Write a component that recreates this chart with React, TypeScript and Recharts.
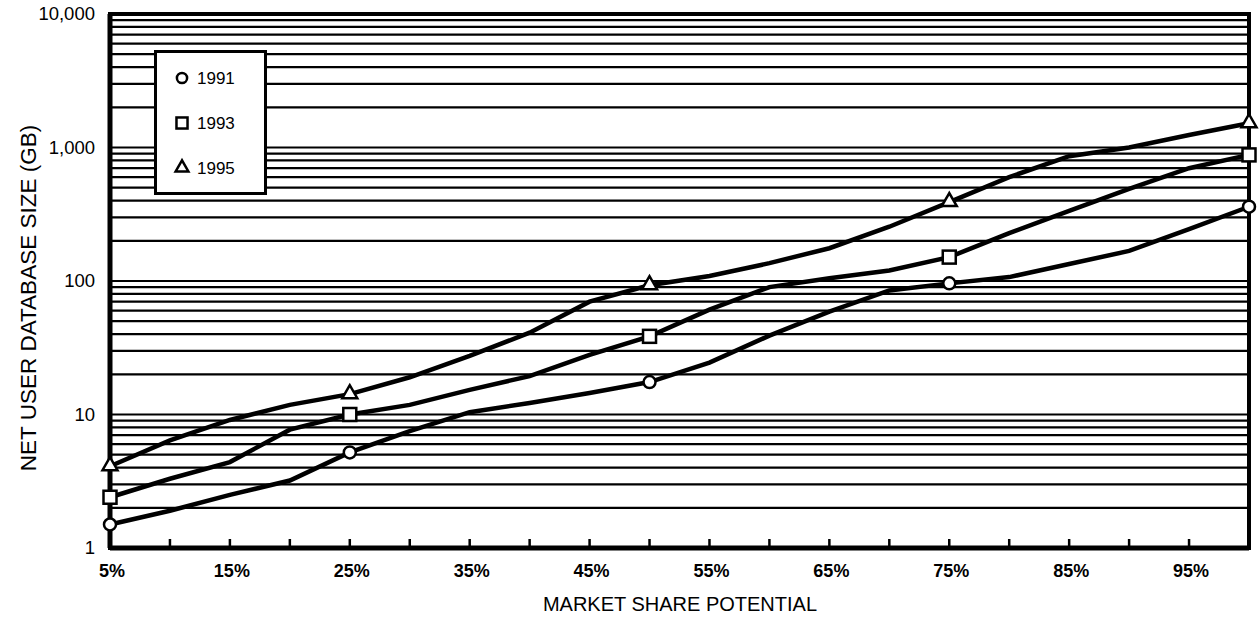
import React from 'react';
import { LineChart, Line, XAxis, YAxis, CartesianGrid, ReferenceArea, Legend } from 'recharts';

// market share potential (%), one point every 5%
const shares = [5, 10, 15, 20, 25, 30, 35, 40, 45, 50, 55, 60, 65, 70, 75, 80, 85, 90, 95, 100];

// net user database size (GB)
const size1991 = [1.5, 1.9, 2.5, 3.2, 5.2, 7.5, 10.4, 12.2, 14.5, 17.5, 24.5, 39, 59, 85, 96, 107, 134, 168, 245, 360];
const size1993 = [2.4, 3.3, 4.4, 7.7, 10, 11.8, 15.3, 19.4, 28, 38.5, 61, 90, 105, 120, 151, 228, 335, 490, 700, 880];
const size1995 = [4.1, 6.4, 9.1, 11.8, 14.2, 19, 27.5, 41, 70, 93, 109, 136, 176, 255, 390, 600, 860, 1000, 1240, 1520];

// only these shares carry a marker
const markerShares = [5, 25, 50, 75, 100];

const xTicks = [5, 10, 15, 20, 25, 30, 35, 40, 45, 50, 55, 60, 65, 70, 75, 80, 85, 90, 95];
const xLabelled = [5, 15, 25, 35, 45, 55, 65, 75, 85, 95];

const yTicks = [
  1, 2, 3, 4, 5, 6, 7, 8, 9,
  10, 20, 30, 40, 50, 60, 70, 80, 90,
  100, 200, 300, 400, 500, 600, 700, 800, 900,
  1000, 2000, 3000, 4000, 5000, 6000, 7000, 8000, 9000,
  10000,
];
const yLabelled = [1, 10, 100, 1000, 10000];

const seriesList = [
  { key: 'y1991', name: '1991', shape: 'circle' },
  { key: 'y1993', name: '1993', shape: 'square' },
  { key: 'y1995', name: '1995', shape: 'triangle' },
];

const data = shares.map((x, i) => ({
  x,
  y1991: size1991[i],
  y1993: size1993[i],
  y1995: size1995[i],
}));

const FONT = '"Liberation Sans", Arial, Helvetica, sans-serif';

function Marker({ shape, cx, cy, size = 1 }: { shape: string; cx: number; cy: number; size?: number }) {
  if (shape === 'circle') {
    return <circle cx={cx} cy={cy} r={6 * size} fill="#fff" stroke="#000" strokeWidth={2.5} />;
  }
  if (shape === 'square') {
    const h = 6.5 * size;
    return <rect x={cx - h} y={cy - h} width={h * 2} height={h * 2} fill="#fff" stroke="#000" strokeWidth={2.5} />;
  }
  const w = 7.5 * size;
  return (
    <polygon
      points={`${cx},${cy - 9 * size} ${cx - w},${cy + 4 * size} ${cx + w},${cy + 4 * size}`}
      fill="#fff"
      stroke="#000"
      strokeWidth={2.5}
      strokeLinejoin="miter"
    />
  );
}

function makeDot(shape: string) {
  return (props: any) => {
    const { cx, cy, payload, index } = props;
    if (!markerShares.includes(payload.x)) return <g key={`${shape}-${index}`} />;
    return (
      <g key={`${shape}-${index}`}>
        <Marker shape={shape} cx={cx} cy={cy} />
      </g>
    );
  };
}

function XTick(props: any) {
  const { x, y, payload } = props;
  const v = payload.value;
  return (
    <g>
      <line x1={x} x2={x} y1={y} y2={y - 9} stroke="#000" strokeWidth={2.5} />
      {xLabelled.includes(v) && (
        <text x={x + 2} y={y + 29} textAnchor="middle" fontSize={18} fontWeight={700} fontFamily={FONT} fill="#000">
          {v}%
        </text>
      )}
    </g>
  );
}

function YTick(props: any) {
  const { x, y, payload } = props;
  const v = payload.value;
  if (!yLabelled.includes(v)) return <g />;
  return (
    <text x={x - 15} y={y} dy="0.35em" textAnchor="end" fontSize={18.5} fontFamily={FONT} fill="#000">
      {v.toLocaleString('en-US')}
    </text>
  );
}

function LegendBox() {
  return (
    <svg width={113} height={145} style={{ display: 'block' }}>
      <rect x={1.5} y={1.5} width={110} height={142} fill="#fff" stroke="#000" strokeWidth={3} />
      {seriesList.map((s, i) => (
        <g key={s.key}>
          <Marker shape={s.shape} cx={28} cy={28 + i * 45} size={0.85} />
          <text x={43} y={34 + i * 45} fontSize={17} fontFamily={FONT} fill="#000">
            {s.name}
          </text>
        </g>
      ))}
    </svg>
  );
}

export default function App() {
  return (
    <div style={{ position: 'absolute', left: 0, top: 0, width: 1259, height: 621, background: '#fff' }}>
      <LineChart width={1259} height={621} data={data} margin={{ top: 14, right: 10, left: 0, bottom: 0 }}>
        <CartesianGrid horizontal vertical={false} stroke="#000" strokeWidth={2.2} />
        <ReferenceArea x1={5} x2={100} y1={1} y2={10000} fill="none" stroke="#000" strokeWidth={4} />
        <XAxis
          type="number"
          dataKey="x"
          domain={[5, 100]}
          ticks={xTicks}
          interval={0}
          tickSize={0}
          tickMargin={0}
          height={73}
          axisLine={{ stroke: '#000', strokeWidth: 5 }}
          tick={<XTick />}
          label={{
            content: () => (
              <text x={680} y={611} textAnchor="middle" fontSize={20} fontFamily={FONT} fill="#000">
                MARKET SHARE POTENTIAL
              </text>
            ),
          }}
        />
        <YAxis
          scale="log"
          domain={[1, 10000]}
          ticks={yTicks}
          interval={0}
          tickSize={0}
          tickMargin={0}
          width={110}
          axisLine={{ stroke: '#000', strokeWidth: 5 }}
          tick={<YTick />}
          label={{
            content: () => (
              <text
                x={28}
                y={298}
                transform="rotate(-90 28 298)"
                textAnchor="middle"
                dominantBaseline="central"
                fontSize={22.5}
                fontFamily={FONT}
                fill="#000"
              >
                NET USER DATABASE SIZE (GB)
              </text>
            ),
          }}
        />
        <Legend
          layout="vertical"
          align="center"
          verticalAlign="middle"
          wrapperStyle={{ left: 154, top: 50, width: 113, height: 145 }}
          content={() => <LegendBox />}
        />
        {seriesList.map((s) => (
          <Line
            key={s.key}
            type="linear"
            dataKey={s.key}
            name={s.name}
            stroke="#000"
            strokeWidth={4.5}
            dot={makeDot(s.shape)}
            activeDot={false}
            isAnimationActive={false}
          />
        ))}
      </LineChart>
    </div>
  );
}
